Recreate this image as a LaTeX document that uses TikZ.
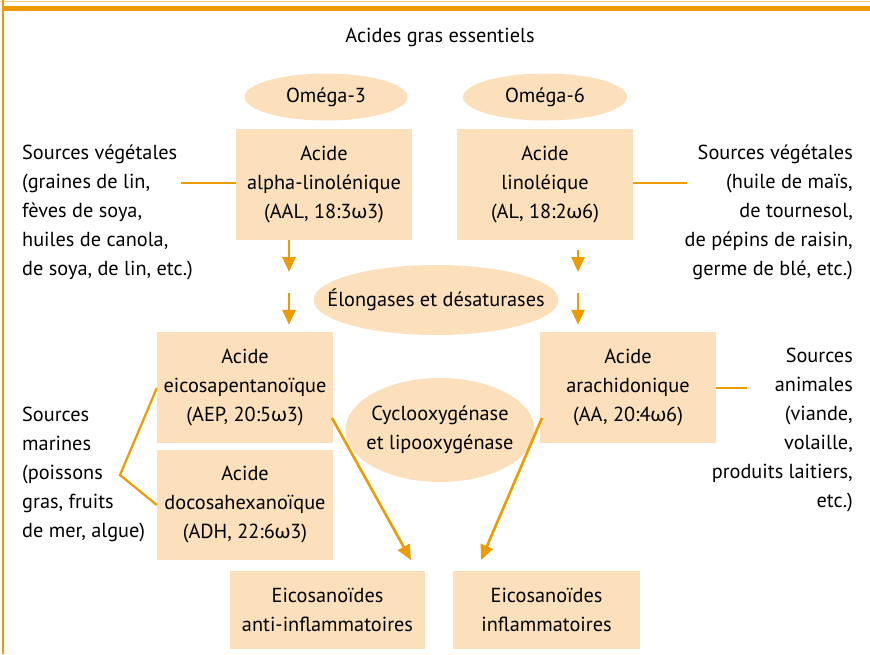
\documentclass[tikz,border=0pt]{standalone}
\usepackage{fontspec}
\setmainfont{PT Sans}
\newfontfamily\grkfont{Lato}
\usetikzlibrary{arrows.meta}
\definecolor{orangeline}{RGB}{236,155,0}
\definecolor{peach}{RGB}{251,224,187}
\newcommand{\om}{{\grkfont ω}}
\tikzset{
  box/.style={fill=peach, minimum width=176, minimum height=111, align=center, inner sep=0},
  oval/.style={align=center, inner sep=0},
  src/.style={inner sep=0},
  link/.style={orangeline, line width=2.2},
  arr/.style={orangeline, line width=2.6, -{Triangle[width=13,length=15]}},
}
\begin{document}
\begin{tikzpicture}[x=1pt, y=-1pt, font=\fontsize{20.3}{29}\selectfont]
    \useasboundingbox (0,0) rectangle (870,654);
    \draw[orangeline!50, line width=1] (0,1) -- (870,1);
    \draw[orangeline, line width=5] (3,8.5) -- (870,8.5);
    \draw[orangeline, line width=1.5] (3,0) -- (3,654);

    \node (title) at (440,37) {Acides gras essentiels};

    % ovals
    \fill[peach] (326,97) ellipse [x radius=81.5, y radius=23.5];
    \fill[peach] (545,97) ellipse [x radius=82, y radius=23.5];
    \fill[peach] (436,300) ellipse [x radius=122.5, y radius=35];
    \fill[peach] (440,430) ellipse [x radius=94.5, y radius=52];
    \node[oval] (om3) at (326,97) {Oméga-3};
    \node[oval] (om6) at (545,97) {Oméga-6};
    \node[oval] (elong) at (436,300) {Élongases et désaturases};
    \node[oval] (cyclo) at (440,430) {Cyclooxygénase\\et lipooxygénase};

    \node[box] (aal) at (324,184.5) {Acide\\alpha-linolénique\\(AAL, 18:3\om3)};
    \node[box] (al) at (545,184.5) {Acide\\linoléique\\(AL, 18:2\om6)};

    \node[src, anchor=west, align=left] (veg1) at (22,212) {Sources végétales\\(graines de lin,\\fèves de soya,\\huiles de canola,\\de soya, de lin, etc.)};
    \node[src, anchor=east, align=right] (veg2) at (853,212) {Sources végétales\\(huile de maïs,\\de tournesol,\\de pépins de raisin,\\germe de blé, etc.)};

    \node[box] (aep) at (245,387.5) {Acide\\eicosapentanoïque\\(AEP, 20:5\om3)};
    \node[box, minimum height=110] (adh) at (245,505) {Acide\\docosahexanoïque\\(ADH, 22:6\om3)};
    \node[box] (aa) at (628,387.5) {Acide\\arachidonique\\(AA, 20:4\om6)};

    \node[src, anchor=west, align=left] (mar) at (22,474) {Sources\\marines\\(poissons\\gras, fruits\\de mer, algue)};
    \node[src, anchor=east, align=right] (ani) at (853,430) {Sources\\animales\\(viande,\\volaille,\\produits laitiers,\\etc.)};

    \node[box, minimum width=195, minimum height=78] (anti) at (327.5,610) {Eicosanoïdes\\anti-inflammatoires};
    \node[box, minimum width=187, minimum height=78] (infl) at (546.5,610) {Eicosanoïdes\\inflammatoires};

    % free ends
    \coordinate (vl) at (181,183);
    \coordinate (vr) at (687,183);
    \coordinate (br) at (120,475);
    \coordinate (ar) at (747,388);
    \coordinate (l1) at (289,272);
    \coordinate (l2) at (289,293);
    \coordinate (r1) at (578,272);
    \coordinate (r2) at (578,293);
    \coordinate (s1) at (332,418);
    \coordinate (t1) at (411,560);
    \coordinate (s2) at (542,418);
    \coordinate (t2) at (481,560);

    \draw[link] (vl) -- (vl -| aal.west);
    \draw[link] (vr -| al.east) -- (vr);
    \draw[link] ([yshift=-0.5]aep.west) -- (br) -- (adh.west);
    \draw[link] (ar -| aa.east) -- (ar);

    \draw[arr] (aal.south -| l1) -- (l1);
    \draw[arr] (l2) -- ([yshift=7]l2 |- aep.north);
    \draw[arr] ([yshift=-10]al.south -| r1) -- (r1);
    \draw[arr] (r2) -- ([yshift=7]r2 |- aa.north);
    \draw[arr] (s1) -- (t1);
    \draw[arr] (s2) -- (t2);
\end{tikzpicture}
\end{document}
